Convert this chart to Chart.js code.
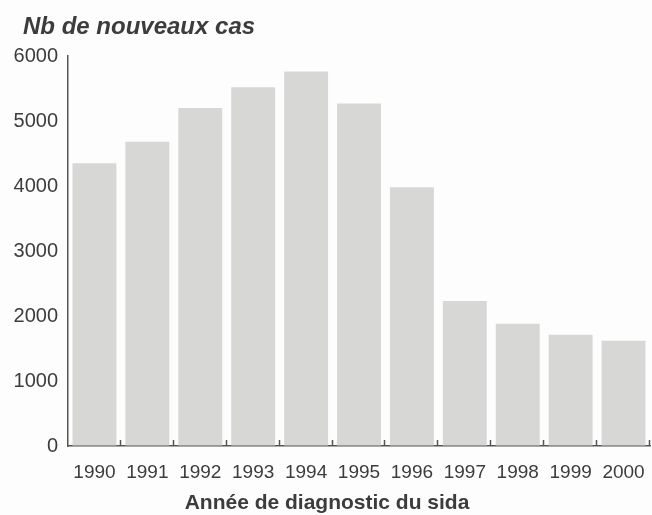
<!DOCTYPE html>
<html>
<head>
<meta charset="utf-8">
<script src="https://cdn.jsdelivr.net/npm/chart.js@4/dist/chart.umd.min.js"></script>
<style>
  html, body { margin: 0; padding: 0; background: #fdfdfd; }
  #wrap { width: 652px; height: 515px; }
</style>
</head>
<body>
<div id="wrap"><canvas id="c" width="652" height="515"></canvas></div>
<script>
const years = ['1990','1991','1992','1993','1994','1995','1996','1997','1998','1999','2000'];
const newCases = [4350, 4680, 5200, 5520, 5760, 5270, 3980, 2230, 1880, 1710, 1620];
const yTicks = [0, 1000, 2000, 3000, 4000, 5000, 6000];
const chartTitle = 'Nb de nouveaux cas';
const xTitle = 'Année de diagnostic du sida';

const textColor = '#3c3c3c';
const axisColor = '#555555';
const fontFamily = '"Liberation Sans", Arial, sans-serif';

const textPlugin = {
  id: 'texts',
  afterDraw(chart) {
    const ctx = chart.ctx;
    ctx.save();
    ctx.fillStyle = textColor;
    ctx.textBaseline = 'middle';
    ctx.textAlign = 'left';
    ctx.font = 'italic bold 24px ' + fontFamily;
    ctx.fillText(chartTitle, 23, 27);
    ctx.textAlign = 'center';
    ctx.font = 'bold 21px ' + fontFamily;
    ctx.fillText(xTitle, 327, 503);
    ctx.restore();
  }
};

const innerTicks = {
  id: 'innerTicks',
  afterDatasetsDraw(chart) {
    const xs = chart.scales.x, ys = chart.scales.y;
    const ctx = chart.ctx;
    const y0 = ys.getPixelForValue(0);
    ctx.save();
    ctx.strokeStyle = axisColor;
    ctx.lineWidth = 1.5;
    for (let i = 0; i < years.length; i++) {
      const x = Math.round(xs.getPixelForValue(i + 0.5)) - 0.5;
      ctx.beginPath();
      ctx.moveTo(x, y0);
      ctx.lineTo(x, y0 - 6);
      ctx.stroke();
    }
    ctx.restore();
  }
};

new Chart(document.getElementById('c'), {
  type: 'bar',
  data: {
    labels: years,
    datasets: [{
      data: newCases,
      backgroundColor: '#d7d7d5',
      borderWidth: 0,
      categoryPercentage: 1.0,
      barPercentage: 0.83
    }]
  },
  options: {
    responsive: false,
    animation: false,
    devicePixelRatio: 1,
    layout: { padding: { top: 56, right: 2, left: 0, bottom: 0 } },
    plugins: {
      legend: { display: false },
      tooltip: { enabled: false },
      title: { display: false }
    },
    scales: {
      x: {
        grid: { display: true, drawOnChartArea: false, drawTicks: true, tickLength: 11, tickColor: 'transparent', color: 'transparent' },
        border: { display: true, color: axisColor, width: 1.5 },
        ticks: {
          color: textColor,
          font: { family: fontFamily, size: 19 },
          padding: 4,
          maxRotation: 0,
          autoSkip: false
        },
        afterFit(scale) { scale.height = 69; }
      },
      y: {
        min: 0,
        max: 6000,
        afterBuildTicks(scale) { scale.ticks = yTicks.map(v => ({ value: v })); },
        grid: { display: true, drawOnChartArea: false, drawTicks: false, color: 'transparent' },
        border: { display: true, color: axisColor, width: 1.5 },
        ticks: {
          color: textColor,
          font: { family: fontFamily, size: 20 },
          padding: 10,
          callback: (v) => String(v)
        },
        afterFit(scale) { scale.width = 68; }
      }
    }
  },
  plugins: [textPlugin, innerTicks]
});
</script>
</body>
</html>
